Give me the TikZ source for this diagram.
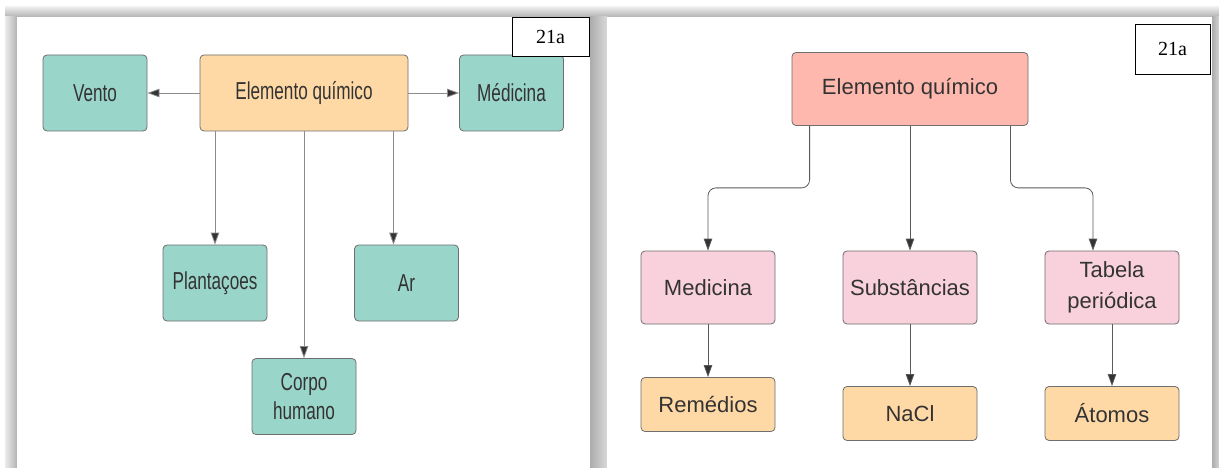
\documentclass[tikz,border=0pt]{standalone}
\usepackage{fontspec}
\setmainfont{Liberation Sans}
\newfontfamily\narrowsans{Liberation Sans}[FakeStretch=0.7]
\newfontfamily\tagserif{Liberation Serif}
\usetikzlibrary{arrows.meta}
\definecolor{tealbox}{HTML}{9AD5CA}
\definecolor{peach}{HTML}{FFD9A5}
\definecolor{salmon}{HTML}{FFB8AD}
\definecolor{pinkbox}{HTML}{F8D1DC}
\definecolor{boxline}{HTML}{6E6E6E}
\definecolor{txt}{HTML}{333333}
\definecolor{wire}{HTML}{5A5A5A}
\definecolor{lightwire}{HTML}{8C8C8C}

\begin{document}
\begin{tikzpicture}[x=1pt,y=-1pt,
  box/.style={draw=boxline,rounded corners=4pt,line width=0.8pt,inner sep=0pt,text=txt,align=center},
  leftbox/.style={box,fill=tealbox,minimum width=104pt,minimum height=76pt,font=\narrowsans\fontsize{24.5}{29.5}\selectfont},
  rightbox/.style={box,minimum width=134pt,font=\fontsize{22}{31}\selectfont},
  tagbox/.style={draw=black,fill=white,line width=0.8pt,inner sep=0pt,font=\tagserif\fontsize{20}{24}\selectfont},
  arr/.style={draw=wire,line width=0.8pt,-{Triangle[length=12pt,width=8.5pt,fill=txt]}},
  larr/.style={arr,draw=lightwire}]
\useasboundingbox (0,0) rectangle (1219,468);
\fill[white] (0,0) rectangle (1219,468);
\shade[top color=gray!15,bottom color=gray!60] (5,7) rectangle (1219,17);
\shade[left color=gray!15,right color=gray!60] (5,17) rectangle (17,468);
\shade[left color=gray!65,right color=gray!30] (590,17) rectangle (607,468);
\shade[left color=gray!65,right color=gray!35] (1212,17) rectangle (1219,468);
\fill[white] (17,17) rectangle (590,468);
\fill[white] (607,17) rectangle (1212,468);

\node[leftbox,fill=peach,minimum width=208pt] (elemA) at (304,93) {Elemento químico};
\node[leftbox] (vento) at (95,93) {Vento};
\node[leftbox] (medA) at (511.5,93) {Médicina};
\node[leftbox] (plant) at (215,283) {Plantaçoes};
\node[leftbox] (ar) at (406.5,283) {Ar};
\node[leftbox] (corpo) at (304,396.5) {Corpo\\humano};
\node[tagbox,minimum width=77pt,minimum height=39pt] (tagA) at (550.5,36.5) {21a};

\draw[larr] (elemA.west) -- (vento.east);
\draw[larr] (elemA.east) -- (medA.west);
\draw[larr] (elemA.south -| plant.north) -- (plant.north);
\draw[larr] (elemA.south -| corpo.north) -- (corpo.north);
\coordinate (arin) at ([xshift=-13pt]ar.north);
\draw[larr] (elemA.south -| arin) -- (arin);

\node[rightbox,fill=salmon,minimum width=236pt,minimum height=73pt] (elemB) at (910,89) {Elemento químico};
\node[rightbox,fill=pinkbox,minimum height=73pt] (medB) at (708,287.5) {Medicina};
\node[rightbox,fill=pinkbox,minimum height=73pt] (subs) at (910,287.5) {Substâncias};
\node[rightbox,fill=pinkbox,minimum height=73pt] (tab) at (1112,287.5) {Tabela\\periódica};
\node[rightbox,fill=peach,minimum height=54pt] (rem) at (708,404.5) {Remédios};
\node[rightbox,fill=peach,minimum height=54pt] (nacl) at (910,413.5) {NaCl};
\node[rightbox,fill=peach,minimum height=54pt] (atom) at (1112,413.5) {Átomos};
\node[tagbox,minimum width=75pt,minimum height=50pt] (tagB) at (1172.5,49) {21a};

\draw[arr,rounded corners=8pt] ([xshift=18pt]elemB.south west) -- ++(0,62) -| (medB.north);
\draw[arr] (elemB.south) -- (subs.north);
\coordinate (tabin) at ([xshift=-19pt]tab.north);
\draw[arr,rounded corners=8pt] ([xshift=-18pt]elemB.south east) -- ++(0,62) -| (tabin);
\draw[arr] (medB.south) -- (rem.north);
\draw[arr] (subs.south) -- (nacl.north);
\draw[arr] (tab.south) -- (atom.north);
\end{tikzpicture}
\end{document}
